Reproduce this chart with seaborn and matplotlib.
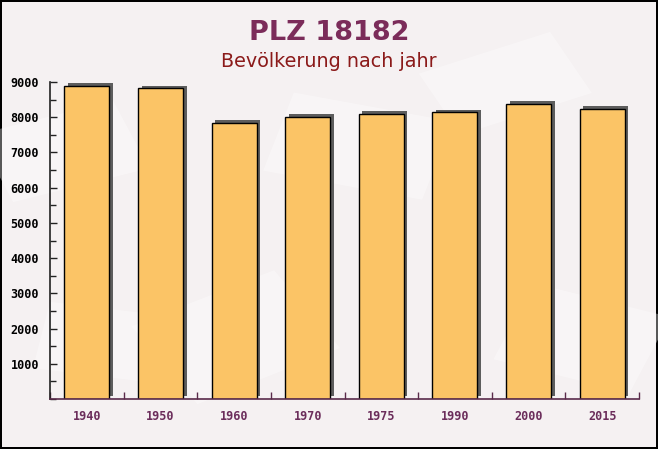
import matplotlib
matplotlib.use("Agg")
import matplotlib.pyplot as plt
import matplotlib.patheffects as pe
from matplotlib.patches import Rectangle
from matplotlib.ticker import MultipleLocator, FixedLocator
import seaborn as sns
import pandas as pd

years = ["1940", "1950", "1960", "1970", "1975", "1990", "2000", "2015"]
population = [8900, 8820, 7840, 8010, 8090, 8140, 8370, 8230]
title = "PLZ 18182"
subtitle = "Bevölkerung nach jahr"

df = pd.DataFrame({"jahr": years, "einwohner": population})

sns.set_style("white")
plt.rcParams["font.family"] = ["DejaVu Sans"]

bg = "#F5F1F2"
fig = plt.figure(figsize=(6.58, 4.49), dpi=100, facecolor=bg,
                 edgecolor="black", linewidth=1.5)

# faint decorative envelope shapes in the background
for (x0, y0, w, h, ang) in [(0.02, 0.55, 0.22, 0.16, 20), (0.40, 0.62, 0.25, 0.18, -15),
                            (0.70, 0.70, 0.22, 0.15, 25), (0.30, 0.10, 0.25, 0.20, 30),
                            (0.75, 0.20, 0.22, 0.18, -20), (0.05, 0.18, 0.18, 0.15, -10)]:
    fig.patches.append(Rectangle((x0, y0), w, h, angle=ang, transform=fig.transFigure,
                                 facecolor="white", alpha=0.35, edgecolor="none", zorder=-5))

ax = fig.add_axes([50/658, 1-399/449, 589/658, 317/449])
ax.patch.set_alpha(0)
ax.set_zorder(2)

sns.barplot(data=df, x="jahr", y="einwohner", ax=ax, color="#FBC466",
            width=0.61, edgecolor="black", linewidth=1.0, saturation=1)
for p in ax.patches:
    p.set_path_effects([pe.SimplePatchShadow(offset=(2.6, 2.0), shadow_rgbFace="#555555", alpha=0.95),
                        pe.Normal()])

ax.set_xlim(-0.5, 7.5)
ax.set_ylim(0, 9000)
ax.set_xlabel("")
ax.set_ylabel("")

yt = list(range(1000, 10000, 1000))
ax.set_yticks(yt)
ax.set_yticklabels([str(v) for v in yt])
ax.yaxis.set_minor_locator(MultipleLocator(500))
ax.xaxis.set_minor_locator(FixedLocator([i + 0.5 for i in range(-1, 8)]))

for s in ["top", "right"]:
    ax.spines[s].set_visible(False)
ax.spines["left"].set_color("#222222")
ax.spines["bottom"].set_color("#5a2a4a")
ax.spines["left"].set_linewidth(1.2)
ax.spines["bottom"].set_linewidth(1.2)

ax.tick_params(left=True, bottom=True, which="both")
ax.tick_params(axis="y", which="major", direction="in", length=5, width=1, color="#222222",
               pad=8, labelsize=8.5)
ax.tick_params(axis="y", which="minor", direction="in", length=4, width=1, color="#222222")
ax.tick_params(axis="x", which="major", length=0, pad=8, labelsize=8.5, labelcolor="#6B2D5B")
ax.tick_params(axis="x", which="minor", direction="in", length=5, width=1, color="#5a2a4a")

for lab in ax.get_yticklabels():
    lab.set_fontfamily("DejaVu Sans Mono")
    lab.set_fontweight("bold")
    lab.set_color("black")
for lab in ax.get_xticklabels():
    lab.set_fontfamily("DejaVu Sans Mono")
    lab.set_fontweight("bold")

fig.text(0.5, 1-40/449, title, ha="center", va="baseline", fontsize=19.5,
         fontweight="bold", color="#7B2C5A")
fig.text(0.5, 1-67/449, subtitle, ha="center", va="baseline", fontsize=13.8,
         color="#8B1A1A")

fig.savefig("out.png", dpi=100, facecolor=fig.get_facecolor(), edgecolor=fig.get_edgecolor())
